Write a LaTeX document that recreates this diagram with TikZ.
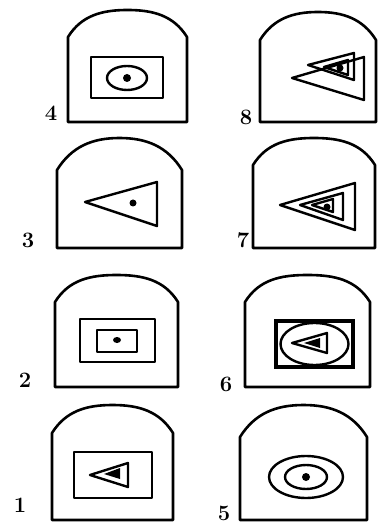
\documentclass[tikz,border=0pt]{standalone}
\begin{document}
\begin{tikzpicture}[x=0.5pt,y=-0.5pt,
  wall/.style={line width=1.3pt,line join=round},
  fig/.style={line width=1.2pt,line join=round},
  dotf/.style={fill=black},
  lab/.style={font=\fontsize{11}{13}\selectfont\bfseries,inner sep=0pt}]
\useasboundingbox (0,0) rectangle (380,528);
\newcommand\archshape[5]{%
  \pgfmathsetmacro\archmid{(#1+#2)/2}%
  \draw[wall] (#1,#5) -- (#1,#4) to[out=58,in=180] (\archmid,#3)
    to[out=0,in=122] (#2,#4) -- (#2,#5) -- cycle;}
% arches
\archshape{68}{187}{10}{37}{122}
\archshape{260}{376}{12}{40}{122}
\archshape{57}{182}{138}{170}{248}
\archshape{253}{375}{138}{165}{248}
\archshape{55}{178}{275}{302}{387}
\archshape{245}{370}{275}{302}{387}
\archshape{52}{173}{405}{433}{520}
\archshape{240}{367}{405}{437}{520}
% 4
\draw[fig] (91,57) rectangle (163,98);
\draw[fig] (127,78) ellipse [x radius=20,y radius=12];
\fill[dotf] (127,78) circle [radius=4];
% 8
\draw[fig] (292,78) -- (364,57) -- (364,100) -- cycle;
\draw[fig] (308,65) -- (354,53) -- (354,80) -- cycle;
\draw[fig] (324,67) -- (348,60) -- (348,75) -- cycle;
\fill[dotf] (340,68) circle [radius=3.5];
% 3
\draw[fig] (85,202) -- (157,182) -- (157,226) -- cycle;
\fill[dotf] (133,203) circle [radius=3.5];
% 7
\draw[fig] (280,205) -- (355,183) -- (355,230) -- cycle;
\draw[fig] (300,205) -- (343,193) -- (343,220) -- cycle;
\draw[fig] (312,205) -- (333,199) -- (333,212) -- cycle;
\fill[dotf] (327,207) circle [radius=3.5];
% 2
\draw[fig] (80,319) rectangle (155,362);
\draw[fig] (97,330) rectangle (137,352);
\fill[dotf] (117,340) ellipse [x radius=4,y radius=3];
% 6
\draw[line width=1.6pt] (276,321) rectangle (353,367);
\draw[fig] (314.5,344) ellipse [x radius=34,y radius=21];
\draw[fig] (292,343) -- (327,333) -- (327,353) -- cycle;
\fill[dotf] (304,343) -- (320,338) -- (320,348) -- cycle;
% 1
\draw[fig] (74,452) rectangle (152,498);
\draw[fig] (90,475) -- (128,463) -- (128,487) -- cycle;
\fill[dotf] (104,474) -- (120,468) -- (120,479) -- cycle;
% 5
\draw[fig] (306,477) ellipse [x radius=37,y radius=21];
\draw[fig] (306,477) ellipse [x radius=21,y radius=12];
\fill[dotf] (306,477) circle [radius=4];
% labels
\node[lab] (l4) at (51,113) {4};
\node[lab] (l8) at (246,117) {8};
\node[lab] (l3) at (28,240) {3};
\node[lab] (l7) at (243,240) {7};
\node[lab] (l2) at (25,380) {2};
\node[lab] (l6) at (226,384) {6};
\node[lab] (l1) at (20,505) {1};
\node[lab] (l5) at (224,513) {5};
\end{tikzpicture}
\end{document}
